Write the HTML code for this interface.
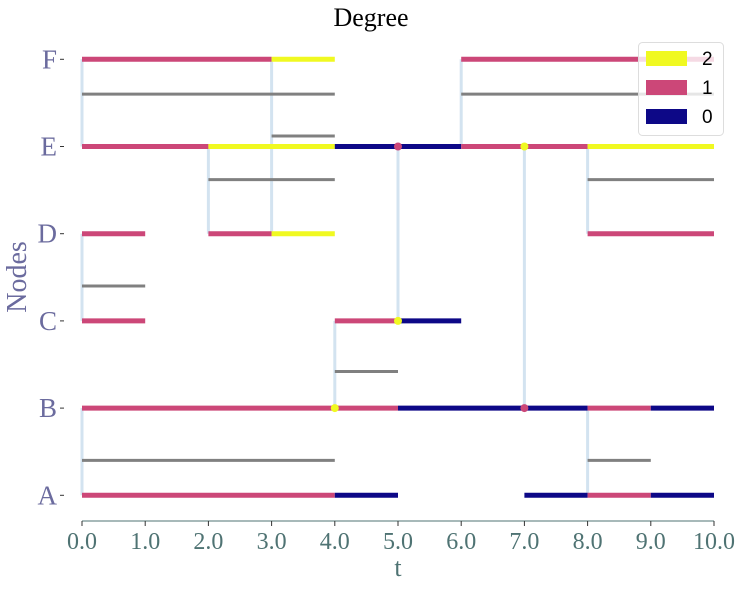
<!DOCTYPE html>
<html><head><meta charset="utf-8"><style>
html,body{margin:0;padding:0;background:#fff;}
svg{display:block;font-family:"Liberation Serif",serif;}
</style></head><body>
<svg id="chart" width="742" height="589" viewBox="0 0 742 589">
<text x="371" y="26" text-anchor="middle" font-family="Liberation Serif,serif" font-size="26" fill="#000">Degree</text>
<g id="edges"></g>
<g id="greys"></g>
<g id="segs"></g>
<g id="dots"></g>
<g id="axes"></g>
<text x="26" y="277" text-anchor="middle" font-family="Liberation Serif,serif" font-size="28" fill="#6b6b9e" transform="rotate(-90 26 277)">Nodes</text>
<text x="398" y="576" text-anchor="middle" font-family="Liberation Serif,serif" font-size="26" fill="#4f7373">t</text>
<g>
<rect x="638.5" y="42.5" width="85" height="93" rx="4" fill="rgba(255,255,255,0.8)" stroke="#ddd"/>
<g><rect x="646" y="51" width="41" height="15" fill="#f0f921"/><text x="702" y="65" font-family="Liberation Sans,sans-serif" font-size="19" fill="#000">2</text></g>
<g><rect x="646" y="80" width="41" height="15" fill="#cc4778"/><text x="702" y="94" font-family="Liberation Sans,sans-serif" font-size="19" fill="#000">1</text></g>
<g><rect x="646" y="109" width="41" height="15" fill="#0d0887"/><text x="702" y="123" font-family="Liberation Sans,sans-serif" font-size="19" fill="#000">0</text></g>
</g>
</svg>
<script>
const nodes = ["A","B","C","D","E","F"];
const xTicks = [0,1,2,3,4,5,6,7,8,9,10];
// segments: [node index, start, end, degree]
const segments = [
 [0,0,4,1],[0,4,5,0],[0,7,8,0],[0,8,9,1],[0,9,10,0],
 [1,0,5,1],[1,5,8,0],[1,8,9,1],[1,9,10,0],
 [2,0,1,1],[2,4,5,1],[2,5,6,0],
 [3,0,1,1],[3,2,3,1],[3,3,4,2],[3,8,10,1],
 [4,0,2,1],[4,2,4,2],[4,4,6,0],[4,6,8,1],[4,8,10,2],
 [5,0,3,1],[5,3,4,2],[5,6,10,1]
];
// edges: [time, node from, node to]
const edges = [[0,0,1],[0,2,3],[0,4,5],[2,3,4],[3,3,5],[4,1,2],[5,2,4],[6,4,5],[7,1,4],[8,0,1],[8,3,4]];
// interval lines: [y in node units, start, end]
const intervals = [[4.6,0,4],[4.12,3,4],[3.62,2,4],[3.62,8,10],[2.4,0,1],[1.42,4,5],[0.4,0,4],[0.4,8,9],[4.6,6,10]];
// dots: [node, time, degree]
const dots = [[1,4,2],[1,7,1],[2,5,2],[4,5,1],[4,7,2]];
const colors = {0:"#0d0887",1:"#cc4778",2:"#f0f921"};
const X = t => 82 + t*63.2;
const Y = k => 495.3 - k*87.2;
const NS = "http://www.w3.org/2000/svg";
function mk(tag, attrs, parent){const e=document.createElementNS(NS,tag);for(const k in attrs)e.setAttribute(k,attrs[k]);document.getElementById(parent).appendChild(e);return e;}
edges.forEach(e=>{
 const l=mk("line",{x1:X(e[0]),x2:X(e[0]),y1:Y(e[1]),y2:Y(e[2]),stroke:"#d3e3f0","stroke-width":3},"edges");
 
 
});
intervals.forEach(g=>{
 const l=mk("line",{x1:X(g[1]),x2:X(g[2]),y1:Y(g[0]),y2:Y(g[0]),stroke:"#808080","stroke-width":3},"greys");
 
 
});
segments.forEach(s=>{
 const l=mk("line",{x1:X(s[1]),x2:X(s[2]),y1:Y(s[0]),y2:Y(s[0]),stroke:colors[s[3]],"stroke-width":5},"segs");
 
 
});
dots.forEach(d=>{
 const c=mk("circle",{cx:X(d[1]),cy:Y(d[0]),r:4,fill:colors[d[2]]},"dots");
 
 
});
const ax=mk("line",{x1:X(0),x2:X(10),y1:521,y2:521,stroke:"#4f7373","stroke-width":1},"axes");


xTicks.forEach(t=>{
 const tk=mk("line",{x1:X(t),x2:X(t),y1:521,y2:526,stroke:"#333","stroke-width":1},"axes");
 
 
 const tx=mk("text",{x:X(t),y:549,"text-anchor":"middle","font-size":24,fill:"#4f7373"},"axes");
 tx.textContent=t.toFixed(1);
 
 
});
nodes.forEach((n,i)=>{
 const tk=mk("line",{x1:60,x2:64,y1:Y(i),y2:Y(i),stroke:"#333","stroke-width":1},"axes");
 
 
 const tx=mk("text",{x:57,y:Y(i)+9,"text-anchor":"end","font-size":27,fill:"#6b6b9e"},"axes");
 tx.textContent=n;
 
 
});
</script>
</body></html>
